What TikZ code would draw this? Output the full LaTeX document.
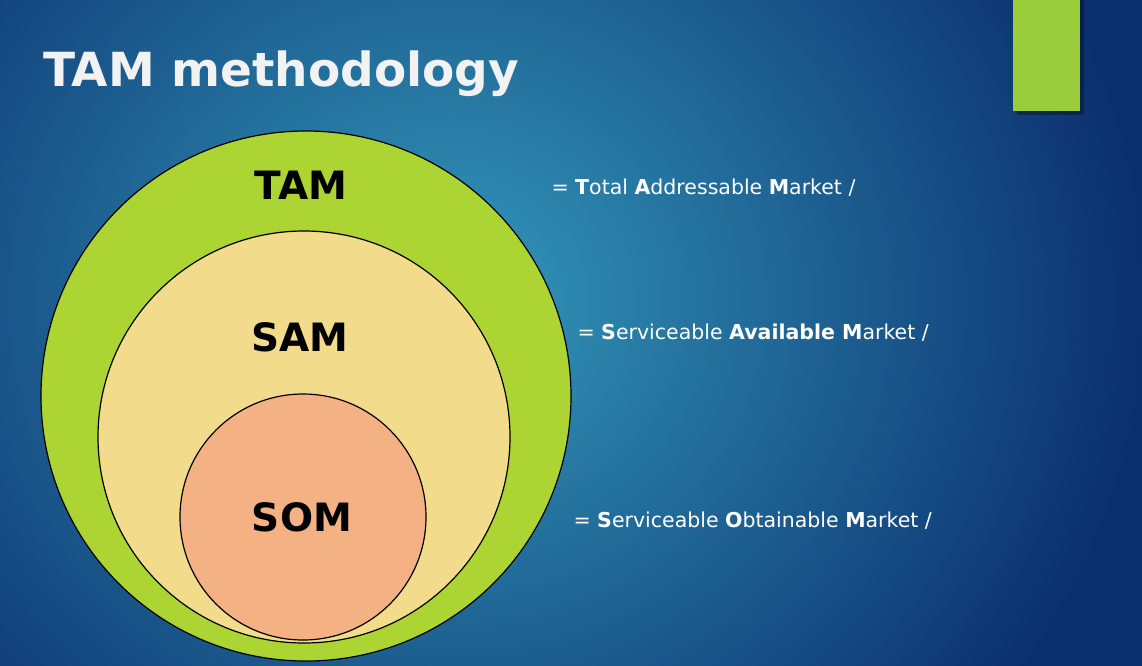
\documentclass[tikz,border=0pt]{standalone}
\usepackage{fontspec}
\setmainfont{DejaVu Sans}
\begin{document}
\begin{tikzpicture}[x=1pt,y=-1pt,
  ring/.style={draw=black,line width=1.2pt},
  biglbl/.style={font=\fontsize{39}{39}\selectfont\bfseries,text=black},
  deflbl/.style={anchor=west,font=\fontsize{20.5}{20.5}\selectfont,text=white}]
\definecolor{bgedge}{HTML}{0B2F6E}
\definecolor{bgmid}{HTML}{3399BB}
\definecolor{tamc}{HTML}{ACD433}
\definecolor{samc}{HTML}{F2DC8C}
\definecolor{somc}{HTML}{F4B183}
\definecolor{barc}{HTML}{9ACD3C}
\useasboundingbox (0,0) rectangle (1142,665);
\fill[bgedge] (0,0) rectangle (1142,665);
\shade[inner color=bgmid,outer color=bgedge] (-250,-350) rectangle (1150,950);
\fill[black,opacity=0.3] (1017,0) rectangle (1084,115);
\fill[barc] (1013,0) rectangle (1080,111);
\node[anchor=west,text=white!90!gray,font=\fontsize{47}{47}\selectfont\bfseries] (title) at (40,74) {TAM methodology};
\node[ring,fill=tamc,circle,minimum size=530pt,inner sep=0pt] (tam) at (306,396) {};
\node[ring,fill=samc,circle,minimum size=412pt,inner sep=0pt] (sam) at (304,437) {};
\node[ring,fill=somc,circle,minimum size=246pt,inner sep=0pt] (som) at (303,517) {};
\node[biglbl] (tamt) at (301,185) {TAM};
\node[biglbl] (samt) at (300,337) {SAM};
\node[biglbl] (somt) at (302,517) {SOM};
\node[deflbl] (d1) at (548,188) {= \textbf{T}otal \textbf{A}ddressable \textbf{M}arket /};
\node[deflbl] (d2) at (574,333) {= \textbf{S}erviceable \textbf{Available M}arket /};
\node[deflbl] (d3) at (570,521) {= \textbf{S}erviceable \textbf{O}btainable \textbf{M}arket /};
\end{tikzpicture}
\end{document}
